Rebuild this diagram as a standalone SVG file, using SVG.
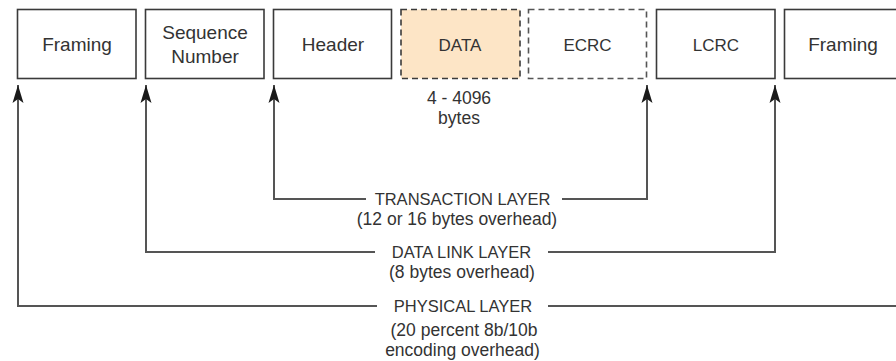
<svg xmlns="http://www.w3.org/2000/svg" width="896" height="361" viewBox="0 0 896 361">
<style>
  .box { fill: #ffffff; stroke: #3a3a3a; stroke-width: 1.6; }
  .dash { stroke-dasharray: 6 4; stroke: #555555; }
  .data { fill: #fde5c6; stroke: #3a3a3a; }
  .lbl { font-family: "Liberation Sans", Arial, sans-serif; font-size: 17px; fill: #333333; text-anchor: middle; }
  .lc { font-size: 19px; }
  .sm { font-size: 17.5px; }
  .cap { font-size: 16.5px; }
  .conn { fill: none; stroke: #555555; stroke-width: 2; }
</style>
<defs>
  <marker id="arr" markerUnits="userSpaceOnUse" markerWidth="24" markerHeight="16" viewBox="-21 -8 24 16" refX="0" refY="0" orient="auto">
    <path d="M0,0 L-18,-5.5 L-14,0 L-18,5.5 Z" fill="#1a1a1a"/>
  </marker>
</defs>
<rect width="896" height="361" fill="#ffffff"/>
<g id="framing-left">
  <rect class="box" x="17.5" y="9.5" width="118.5" height="69"/>
  <text class="lbl lc" x="77" y="50.5">Framing</text>
</g>
<g id="sequence-number">
  <rect class="box" x="145.5" y="9.5" width="118.5" height="69"/>
  <text class="lbl lc" x="205" y="39">Sequence</text>
  <text class="lbl lc" x="205" y="62.5">Number</text>
</g>
<g id="header">
  <rect class="box" x="273.5" y="9.5" width="118" height="69"/>
  <text class="lbl lc" x="333" y="50.5">Header</text>
</g>
<g id="data">
  <rect class="box dash data" x="401" y="9.5" width="119" height="69"/>
  <text class="lbl" x="460" y="50.5">DATA</text>
  <text class="lbl sm" x="459" y="104">4 - 4096</text>
  <text class="lbl sm" x="459" y="123.5">bytes</text>
</g>
<g id="ecrc">
  <rect class="box dash" x="528.5" y="9.5" width="118" height="69"/>
  <text class="lbl" x="587.5" y="50.5">ECRC</text>
</g>
<g id="lcrc">
  <rect class="box" x="656.5" y="9.5" width="118.5" height="69"/>
  <text class="lbl" x="716" y="50.5">LCRC</text>
</g>
<g id="framing-right">
  <rect class="box" x="784.5" y="9.5" width="130" height="69"/>
  <text class="lbl lc" x="843" y="50.5">Framing</text>
</g>
<g id="connectors">
  <path class="conn" d="M366,199 H274 V85" marker-end="url(#arr)"/>
  <path class="conn" d="M562,199 H647 V85" marker-end="url(#arr)"/>
  <path class="conn" d="M375,252 H146 V85" marker-end="url(#arr)"/>
  <path class="conn" d="M548,252 H775 V85" marker-end="url(#arr)"/>
  <path class="conn" d="M377,306 H18 V85" marker-end="url(#arr)"/>
  <path class="conn" d="M548,306 H896"/>
</g>
<g id="transaction-layer">
  <text class="lbl cap" x="462.5" y="204.5">TRANSACTION LAYER</text>
  <text class="lbl sm" x="457" y="224.5">(12 or 16 bytes overhead)</text>
</g>
<g id="data-link-layer">
  <text class="lbl cap" x="461.5" y="258">DATA LINK LAYER</text>
  <text class="lbl sm" x="462" y="277.5">(8 bytes overhead)</text>
</g>
<g id="physical-layer">
  <text class="lbl cap" x="463" y="312">PHYSICAL LAYER</text>
  <text class="lbl sm" x="464" y="336">(20 percent 8b/10b</text>
  <text class="lbl sm" x="462.5" y="355.5">encoding overhead)</text>
</g>
</svg>
